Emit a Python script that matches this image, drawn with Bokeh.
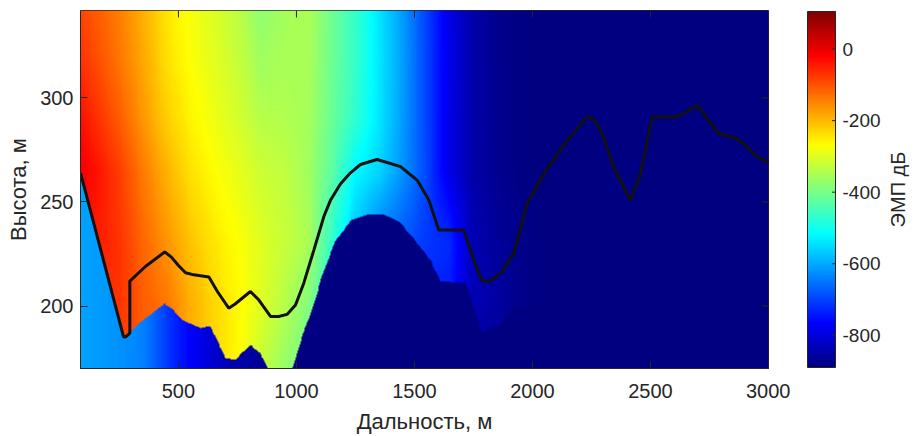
import numpy as np
from bokeh.plotting import figure
from bokeh.models import LinearColorMapper, FixedTicker, Range1d
from bokeh.core.properties import value
from bokeh.layouts import row
from bokeh.embed import file_html
from bokeh.resources import INLINE

# Terrain profile: distance (m) and height (m)
terrain_x = [85, 268, 280, 294, 294, 360, 442, 470, 500, 530, 565, 629, 665, 713, 740,
             805, 840, 890, 925, 960, 996, 1031, 1074, 1116, 1144, 1187, 1229, 1271,
             1342, 1441, 1512, 1561, 1603, 1709, 1752, 1787, 1820, 1865, 1921, 1978,
             2048, 2147, 2232, 2260, 2300, 2344, 2415, 2458, 2507, 2613, 2698, 2789,
             2853, 2895, 2952, 3000]
terrain_y = [264, 185, 185.5, 187, 212, 219, 226, 223.5, 219.5, 216, 215, 214, 207, 199,
             201, 207, 203, 195, 195, 196, 200.5, 211, 227, 243, 250.8, 258.8, 264, 268,
             270.4, 267, 260.4, 251, 236.5, 236.5, 222, 212, 212, 215.7, 225.3, 249.3,
             263.6, 279.6, 290.8, 290, 282, 266.8, 250.8, 263.6, 290.8, 290.8, 296.4,
             282.8, 281.2, 278, 271.6, 269.2]

# Field level (dB) sampled on a distance x height grid
grid_x = [85, 150, 250, 350, 450, 550, 650, 750, 850, 950, 1050, 1150, 1250, 1350,
          1450, 1550, 1650, 1750, 1850, 1950, 2100, 3000]
grid_y = [170, 200, 230, 265, 290, 320, 342]
db_170 = [-50, -70, -80, -110, -140, -190, -228, -265, -325, -370, -410, -520, -650, -720,
          -740, -760, -770, -860, -870, -885, -890, -890]
db_200 = [-40, -60, -70, -110, -135, -190, -230, -262, -300, -340, -390, -490, -600, -680,
          -700, -730, -742, -835, -855, -880, -890, -890]
db_230 = [-30, -45, -70, -120, -165, -210, -245, -270, -300, -322, -350, -470, -580, -650,
          -680, -712, -725, -840, -862, -880, -890, -890]
db_265 = [-15, -35, -80, -140, -195, -240, -268, -292, -318, -330, -360, -425, -520, -555,
          -620, -695, -792, -848, -872, -885, -890, -890]
db_290 = [-35, -65, -110, -168, -222, -258, -285, -310, -340, -345, -355, -415, -470, -540,
          -612, -698, -790, -848, -874, -885, -890, -890]
db_320 = [-70, -95, -137, -185, -240, -272, -298, -325, -362, -352, -352, -410, -465, -537,
          -610, -698, -788, -847, -875, -885, -890, -890]
db_342 = [-88, -108, -143, -192, -245, -278, -303, -332, -378, -355, -350, -410, -465, -540,
          -612, -700, -790, -848, -875, -885, -890, -890]
field_db = [db_170, db_200, db_230, db_265, db_290, db_320, db_342]

# Lower edge of the computed field (m)
floor_x = [85, 268, 294, 300, 360, 438, 470, 516, 593, 634, 698, 740, 804, 846, 881, 980,
           1017, 1059, 1102, 1158, 1229, 1300, 1370, 1441, 1512, 1568, 1610, 1723, 1760,
           1787, 1865, 1921, 3000]
floor_y = [264, 185, 187, 188, 194, 201, 199, 193, 189, 190, 175, 174, 181, 177, 169, 169,
           183, 196, 212, 230, 241, 244, 244, 240, 230, 222, 212, 211, 196, 187, 191, 200,
           200]

# Level below the field edge (dB)
under_x = [85, 294, 350, 400, 450, 500, 600, 700, 800, 900, 1000, 3000]
under_db = [-605, -628, -640, -670, -710, -740, -790, -835, -858, -875, -888, -890]

x_ticks = [500, 1000, 1500, 2000, 2500, 3000]
y_ticks = [200, 250, 300]
cbar_ticks = [-800, -600, -400, -200, 0]
cbar_labels = [str(t) for t in cbar_ticks]

X0, X1 = 85, 3000
Y0, Y1 = 170, 342
DB_LO, DB_HI = -890, 105

TEXT = "#262626"
FONT = "Liberation Sans"


def jet(n=256):
    cols = []
    for f in np.linspace(0, 1, n):
        r = np.clip(1.5 - abs(4 * f - 3), 0, 1)
        g = np.clip(1.5 - abs(4 * f - 2), 0, 1)
        b = np.clip(1.5 - abs(4 * f - 1), 0, 1)
        cols.append("#%02x%02x%02x" % (int(round(r * 255)), int(round(g * 255)), int(round(b * 255))))
    return cols


mapper = LinearColorMapper(palette=jet(), low=DB_LO, high=DB_HI)

# raster of the field between the sampled values
nx, ny = 730, 344
xs = np.linspace(X0, X1, nx)
ys = np.linspace(Y0, Y1, ny)
rows_x = np.array([np.interp(xs, grid_x, r) for r in field_db])
field = np.empty((ny, nx))
for j in range(nx):
    field[:, j] = np.interp(ys, grid_y, rows_x[:, j])
floor = np.interp(xs, floor_x, floor_y)
under = np.interp(xs, under_x, under_db)
field = np.where(ys[:, None] < floor[None, :], under[None, :], field)


def style_axis(ax, ticks):
    ax.ticker = FixedTicker(ticks=ticks)
    ax.minor_tick_line_color = None
    ax.major_tick_in = 7
    ax.major_tick_out = 0
    ax.major_tick_line_color = TEXT
    ax.axis_line_color = TEXT
    ax.major_label_text_color = TEXT
    ax.major_label_text_font = FONT
    ax.major_label_text_font_size = "20px"
    ax.axis_label_text_color = TEXT
    ax.axis_label_text_font = FONT
    ax.axis_label_text_font_style = "normal"
    ax.axis_label_text_font_size = "22px"


p = figure(width=790, height=436, x_range=Range1d(X0, X1), y_range=Range1d(Y0, Y1),
           output_backend="svg", toolbar_location=None,
           min_border_left=80, min_border_right=22, min_border_top=10, min_border_bottom=67)
p.image(image=[field], x=X0, y=Y0, dw=X1 - X0, dh=Y1 - Y0, color_mapper=mapper)
p.line(terrain_x, terrain_y, line_color="#111111", line_width=3)
p.grid.visible = False
p.outline_line_color = TEXT

# inward ticks on the top and right edges of the box
tick_dx = 7 * (X1 - X0) / 688
tick_dy = 7 * (Y1 - Y0) / 359
p.segment(x0=x_ticks, y0=[Y1] * len(x_ticks), x1=x_ticks, y1=[Y1 - tick_dy] * len(x_ticks),
          line_color=TEXT, line_width=1)
p.segment(x0=[X1] * len(y_ticks), y0=y_ticks, x1=[X1 - tick_dx] * len(y_ticks), y1=y_ticks,
          line_color=TEXT, line_width=1)

style_axis(p.xaxis[0], x_ticks)
p.xaxis[0].axis_label = "Дальность, м"
p.xaxis[0].major_label_standoff = 15
p.xaxis[0].axis_label_standoff = 8
style_axis(p.yaxis[0], y_ticks)
p.yaxis[0].axis_label = "Высота, м"
p.yaxis[0].major_label_standoff = 7
p.yaxis[0].axis_label_standoff = 6

# colour scale, drawn in pixel-sized units across its own frame
cb = figure(width=125, height=436, x_range=Range1d(-1, 108),
            y_range=Range1d(DB_LO - 995 / 359, DB_HI + 995 / 359),
            output_backend="svg", toolbar_location=None,
            x_axis_location=None, y_axis_location=None,
            min_border_left=16, min_border_right=0, min_border_top=9, min_border_bottom=66)
cb.outline_line_color = None
cb.grid.visible = False
cb.image(image=[np.linspace(DB_LO, DB_HI, 512).reshape(-1, 1)], x=0, y=DB_LO, dw=28,
         dh=DB_HI - DB_LO, color_mapper=mapper)
cb.quad(left=0, right=28, bottom=DB_LO, top=DB_HI, fill_color=None, line_color=TEXT,
        line_width=1)
cb.segment(x0=[24.5] * len(cbar_ticks), y0=cbar_ticks, x1=[28] * len(cbar_ticks),
           y1=cbar_ticks, line_color=TEXT, line_width=1)
cb.text(x=[35] * len(cbar_ticks), y=cbar_ticks, text=cbar_labels, text_align="left",
        text_baseline="middle", text_font=value(FONT), text_font_size="19px",
        text_color=TEXT)
cb.text(x=[90], y=[(DB_LO + DB_HI) / 2], text=["ЭМП дБ"], angle=np.pi / 2,
        text_align="center", text_baseline="middle", text_font=value(FONT),
        text_font_size="20px", text_color=TEXT)

layout = row(p, cb)
open("out.html", "w").write(file_html(layout, INLINE))
